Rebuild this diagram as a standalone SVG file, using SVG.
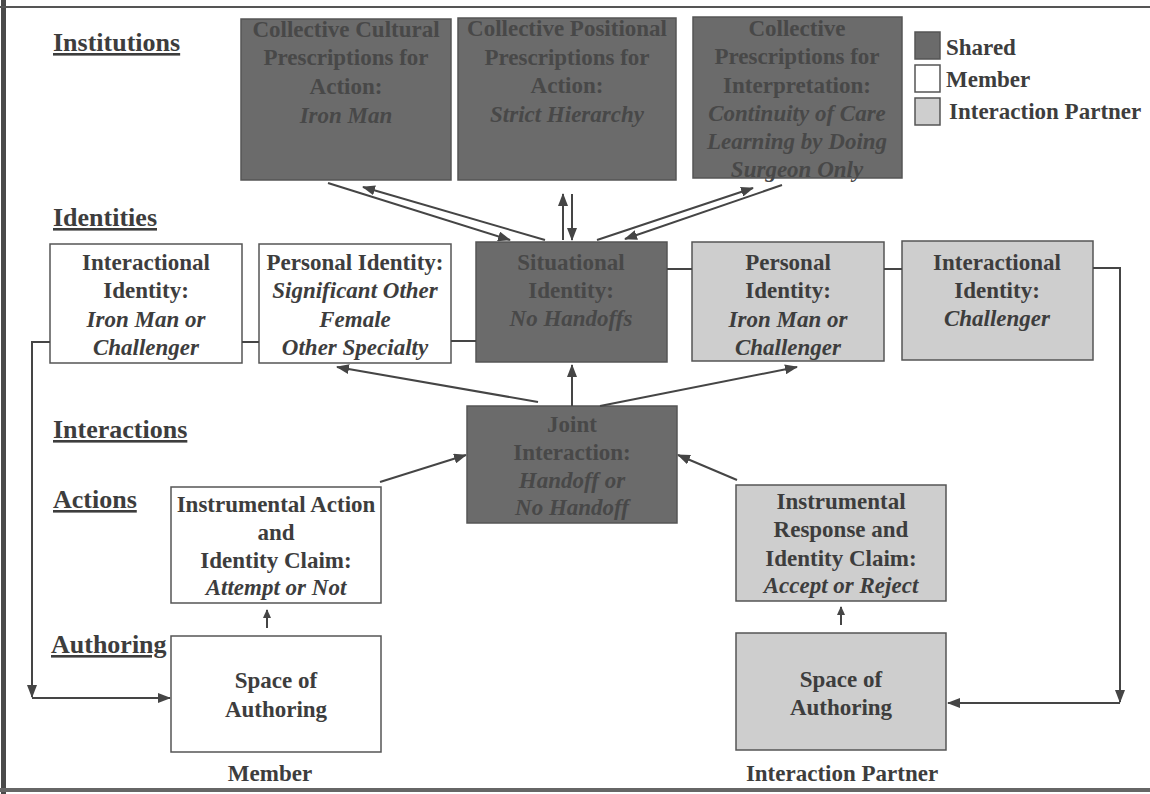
<svg xmlns="http://www.w3.org/2000/svg" width="1150" height="794" viewBox="0 0 1150 794">
<defs>
<marker id="ah" markerUnits="userSpaceOnUse" markerWidth="13" markerHeight="10" refX="12" refY="5" orient="auto"><path d="M0,0 L13,5 L0,10 z" fill="#454545"/></marker>
<marker id="ahs" markerUnits="userSpaceOnUse" markerWidth="9" markerHeight="8" refX="8" refY="4" orient="auto"><path d="M0,0 L9,4 L0,8 z" fill="#454545"/></marker>
<style>
text{font-family:"Liberation Serif","Times New Roman",serif;font-weight:bold;font-size:23px;text-anchor:middle;fill:#3d3d3d}
.i{font-style:italic}
.dk rect{fill:#6b6b6b;stroke:#555;stroke-width:1.5}
.dk text{fill:#484848}
.wt rect{fill:#fff;stroke:#555;stroke-width:1.5}
.lt rect{fill:#cecece;stroke:#555;stroke-width:1.5}
.lbl{font-size:26px;text-anchor:start;text-decoration:underline;fill:#3d3d3d}
.leg{text-anchor:start}
.c line,.c path{stroke:#454545;stroke-width:2;fill:none}
</style>
</defs>
<rect x="0" y="0" width="1150" height="794" fill="#fff"/>
<rect x="1" y="0" width="5" height="794" fill="#4a4a4a"/>
<line x1="0" y1="7" x2="1150" y2="7" stroke="#555" stroke-width="2"/>
<line x1="0" y1="790" x2="1150" y2="790" stroke="#666" stroke-width="4"/>

<g id="labels">
<text class="lbl" x="53" y="51">Institutions</text>
<text class="lbl" x="53" y="226">Identities</text>
<text class="lbl" x="53" y="438">Interactions</text>
<text class="lbl" x="53" y="508">Actions</text>
<text class="lbl" x="51" y="653">Authoring</text>
<text x="270" y="781">Member</text>
<text x="842" y="781">Interaction Partner</text>
</g>

<g id="legend">
<rect x="915" y="32" width="25" height="27" fill="#6b6b6b" stroke="#555" stroke-width="1.5"/>
<rect x="915" y="65" width="25" height="27" fill="#fff" stroke="#555" stroke-width="1.5"/>
<rect x="915" y="98" width="25" height="27" fill="#cecece" stroke="#555" stroke-width="1.5"/>
<text class="leg" x="946" y="55">Shared</text>
<text class="leg" x="946" y="87">Member</text>
<text class="leg" x="949" y="119">Interaction Partner</text>
</g>

<g id="cultural" class="dk"><rect x="241" y="19" width="210" height="161"/>
<text x="346" y="37">Collective Cultural</text><text x="346" y="65">Prescriptions for</text><text x="346" y="94">Action:</text><text class="i" x="346" y="123">Iron Man</text></g>
<g id="positional" class="dk"><rect x="458" y="18" width="218" height="162"/>
<text x="567" y="36">Collective Positional</text><text x="567" y="65">Prescriptions for</text><text x="567" y="93">Action:</text><text class="i" x="567" y="122">Strict Hierarchy</text></g>
<g id="interpretation" class="dk"><rect x="693" y="17" width="209" height="161"/>
<text x="797" y="36">Collective</text><text x="797" y="64">Prescriptions for</text><text x="797" y="93">Interpretation:</text><text class="i" x="797" y="121">Continuity of Care</text><text class="i" x="797" y="149">Learning by Doing</text><text class="i" x="797" y="177">Surgeon Only</text></g>

<g id="int-member" class="wt"><rect x="50" y="244" width="192" height="119"/>
<text x="146" y="270">Interactional</text><text x="146" y="298">Identity:</text><text class="i" x="146" y="327">Iron Man or</text><text class="i" x="146" y="355">Challenger</text></g>
<g id="pers-member" class="wt"><rect x="259" y="244" width="192" height="119"/>
<text x="355" y="270">Personal Identity:</text><text class="i" x="355" y="298">Significant Other</text><text class="i" x="355" y="327">Female</text><text class="i" x="355" y="355">Other Specialty</text></g>
<g id="situational" class="dk"><rect x="476" y="242" width="191" height="120"/>
<text x="571" y="270">Situational</text><text x="571" y="298">Identity:</text><text class="i" x="571" y="326">No Handoffs</text></g>
<g id="pers-partner" class="lt"><rect x="692" y="242" width="192" height="119"/>
<text x="788" y="270">Personal</text><text x="788" y="298">Identity:</text><text class="i" x="788" y="327">Iron Man or</text><text class="i" x="788" y="355">Challenger</text></g>
<g id="int-partner" class="lt"><rect x="902" y="241" width="191" height="119"/>
<text x="997" y="270">Interactional</text><text x="997" y="298">Identity:</text><text class="i" x="997" y="326">Challenger</text></g>

<g id="joint" class="dk"><rect x="467" y="406" width="210" height="117"/>
<text x="572" y="432">Joint</text><text x="572" y="460">Interaction:</text><text class="i" x="572" y="488">Handoff or</text><text class="i" x="572" y="515">No Handoff</text></g>
<g id="action-member" class="wt"><rect x="171" y="487" width="210" height="116"/>
<text x="276" y="512">Instrumental Action</text><text x="276" y="540">and</text><text x="276" y="568">Identity Claim:</text><text class="i" x="276" y="595">Attempt or Not</text></g>
<g id="authoring-member" class="wt"><rect x="171" y="636" width="210" height="116"/>
<text x="276" y="688">Space of</text><text x="276" y="717">Authoring</text></g>
<g id="response-partner" class="lt"><rect x="736" y="485" width="210" height="116"/>
<text x="841" y="509">Instrumental</text><text x="841" y="537">Response and</text><text x="841" y="566">Identity Claim:</text><text class="i" x="841" y="593">Accept or Reject</text></g>
<g id="authoring-partner" class="lt"><rect x="736" y="633" width="210" height="117"/>
<text x="841" y="687">Space of</text><text x="841" y="715">Authoring</text></g>

<g id="connectors" class="c">
<path d="M50,342 H32 V697" marker-end="url(#ah)"/>
<line x1="32" y1="698" x2="170" y2="698" marker-end="url(#ah)"/>
<line x1="242" y1="342" x2="259" y2="342"/>
<line x1="451" y1="341" x2="476" y2="341"/>
<line x1="667" y1="269" x2="692" y2="269"/>
<line x1="884" y1="269" x2="902" y2="269"/>
<path d="M1093,268 H1120 V702" marker-end="url(#ah)"/>
<line x1="1120" y1="703" x2="948" y2="703" marker-end="url(#ah)"/>
<line x1="328" y1="183" x2="510" y2="240" marker-end="url(#ah)"/>
<line x1="545" y1="240" x2="363" y2="187" marker-end="url(#ah)"/>
<line x1="563" y1="240" x2="563" y2="194" marker-end="url(#ah)"/>
<line x1="572" y1="194" x2="572" y2="240" marker-end="url(#ah)"/>
<line x1="597" y1="240" x2="753" y2="188" marker-end="url(#ah)"/>
<line x1="782" y1="185" x2="625" y2="239" marker-end="url(#ah)"/>
<line x1="572" y1="406" x2="572" y2="365" marker-end="url(#ah)"/>
<line x1="538" y1="402" x2="337" y2="367" marker-end="url(#ah)"/>
<line x1="600" y1="406" x2="797" y2="367" marker-end="url(#ah)"/>
<line x1="380" y1="482" x2="466" y2="455" marker-end="url(#ah)"/>
<line x1="737" y1="480" x2="678" y2="455" marker-end="url(#ah)"/>
<line x1="267" y1="628" x2="267" y2="610" marker-end="url(#ahs)"/>
<line x1="841" y1="625" x2="841" y2="607" marker-end="url(#ahs)"/>
</g>
</svg>
